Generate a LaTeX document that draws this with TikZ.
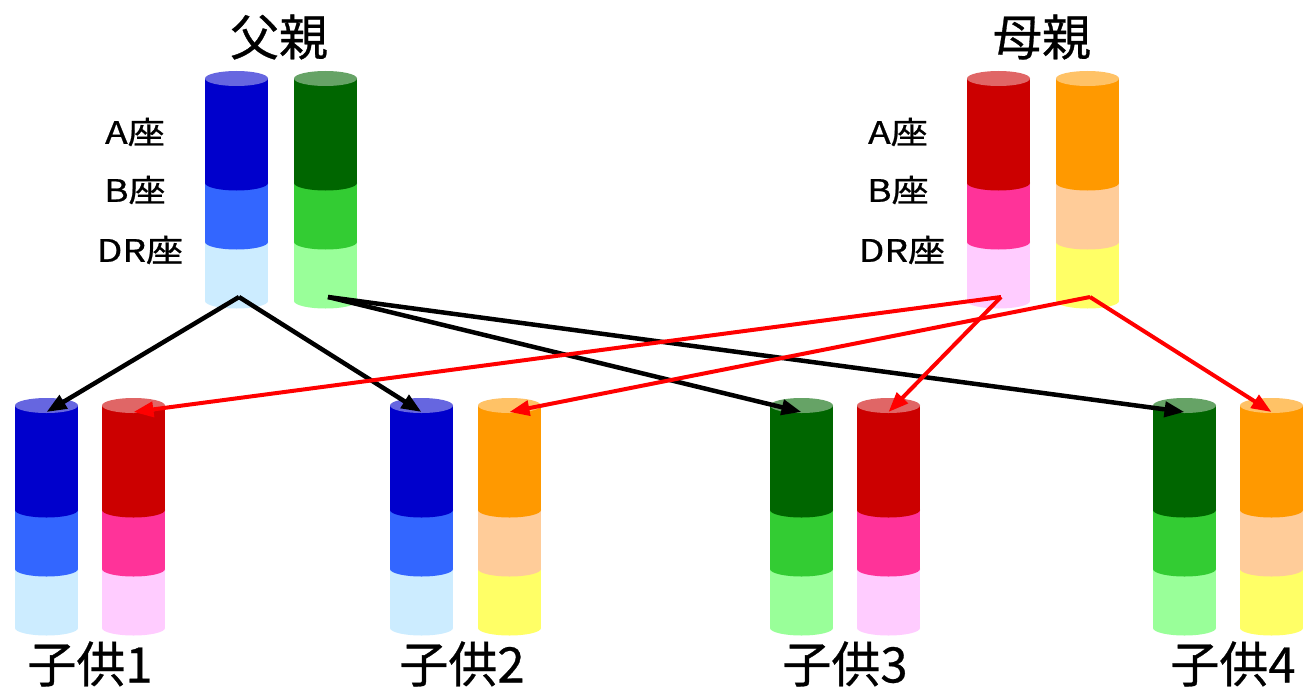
\documentclass[tikz,border=0pt]{standalone}
\usepackage{fontspec}
\newfontfamily\jp[FakeBold=0.6]{Noto Sans CJK JP}
\usetikzlibrary{arrows.meta}

% chromosome colours
\definecolor{bDark}{HTML}{0000CC}
\definecolor{bMid}{HTML}{3366FF}
\definecolor{bLight}{HTML}{CCECFF}
\definecolor{gDark}{HTML}{006600}
\definecolor{gMid}{HTML}{33CC33}
\definecolor{gLight}{HTML}{99FF99}
\definecolor{rDark}{HTML}{CC0000}
\definecolor{rMid}{HTML}{FF3399}
\definecolor{rLight}{HTML}{FFCCFF}
\definecolor{oDark}{HTML}{FF9900}
\definecolor{oMid}{HTML}{FFCC99}
\definecolor{oLight}{HTML}{FFFF66}

% segmented chromosome: #1 centre x, #2 y of top ellipse, #3/#4/#5 colours of the A/B/DR segments, #6 name
\newcommand{\chromo}[6]{%
  \fill[#5] (#1-31.5,#2+163.5) rectangle (#1+31.5,#2+222.5);
  \fill[#5] (#1,#2+222.5) ellipse [x radius=31.5, y radius=7.5];
  \fill[#4] (#1-31.5,#2+104.5) rectangle (#1+31.5,#2+163.5);
  \fill[#4] (#1,#2+163.5) ellipse [x radius=31.5, y radius=7.5];
  \fill[#3] (#1-31.5,#2) rectangle (#1+31.5,#2+104.5);
  \fill[#3] (#1,#2+104.5) ellipse [x radius=31.5, y radius=7.5];
  \fill[#3!60!white] (#1,#2) ellipse [x radius=31.5, y radius=7.5];
  \coordinate (#6-in) at (#1,#2+6.5);
  \coordinate (#6-out) at (#1+2.5,#2+218.5);
}

\begin{document}
\begin{tikzpicture}[x=1pt,y=-1pt,
  title/.style={font=\jp\fontsize{49}{49}\selectfont, inner sep=0pt},
  locus/.style={font=\jp\fontsize{31}{31}\selectfont, inner sep=0pt},
  inherit/.style={line width=4.5pt, -{Triangle[length=20pt,width=15pt]}},
  fromfather/.style={inherit, draw=black},
  frommother/.style={inherit, draw=red, line width=4pt}]
\useasboundingbox (0,0) rectangle (1305,690);

% parents
\chromo{236.5}{78.5}{bDark}{bMid}{bLight}{fa}
\chromo{325.5}{78.5}{gDark}{gMid}{gLight}{fb}
\chromo{998.5}{78.5}{rDark}{rMid}{rLight}{ma}
\chromo{1087.5}{78.5}{oDark}{oMid}{oLight}{mb}

% children
\chromo{46.5}{405.5}{bDark}{bMid}{bLight}{c1a}
\chromo{133.5}{405.5}{rDark}{rMid}{rLight}{c1b}
\chromo{421.5}{405.5}{bDark}{bMid}{bLight}{c2a}
\chromo{509.5}{405.5}{oDark}{oMid}{oLight}{c2b}
\chromo{801.5}{405.5}{gDark}{gMid}{gLight}{c3a}
\chromo{888.5}{405.5}{rDark}{rMid}{rLight}{c3b}
\chromo{1184.5}{405.5}{gDark}{gMid}{gLight}{c4a}
\chromo{1271.5}{405.5}{oDark}{oMid}{oLight}{c4b}

% titles
\node[title] (father) at (279,37) {父親};
\node[title] (mother) at (1042,37) {母親};
\node[title] (child1) at (90,664) {子供1};
\node[title] (child2) at (462,664) {子供2};
\node[title] (child3) at (845,664) {子供3};
\node[title] (child4) at (1233,664) {子供4};

% locus labels
\node[locus] (fA) at (135,132) {\scalebox{1.2}[1]{A座}};
\node[locus] (fB) at (135,190) {\scalebox{1.2}[1]{B座}};
\node[locus] (fDR) at (140,250) {\scalebox{1.2}[1]{DR座}};
\node[locus] (mA) at (898,132) {\scalebox{1.2}[1]{A座}};
\node[locus] (mB) at (898,190) {\scalebox{1.2}[1]{B座}};
\node[locus] (mDR) at (902,250) {\scalebox{1.2}[1]{DR座}};

% inheritance arrows
\draw[fromfather] (fa-out) -- (c1a-in);
\draw[fromfather] (fa-out) -- (c2a-in);
\draw[fromfather] (fb-out) -- (c3a-in);
\draw[fromfather] (fb-out) -- (c4a-in);
\draw[frommother] (ma-out) -- (c1b-in);
\draw[frommother] (ma-out) -- (c3b-in);
\draw[frommother] (mb-out) -- (c2b-in);
\draw[frommother] (mb-out) -- (c4b-in);
\end{tikzpicture}
\end{document}
